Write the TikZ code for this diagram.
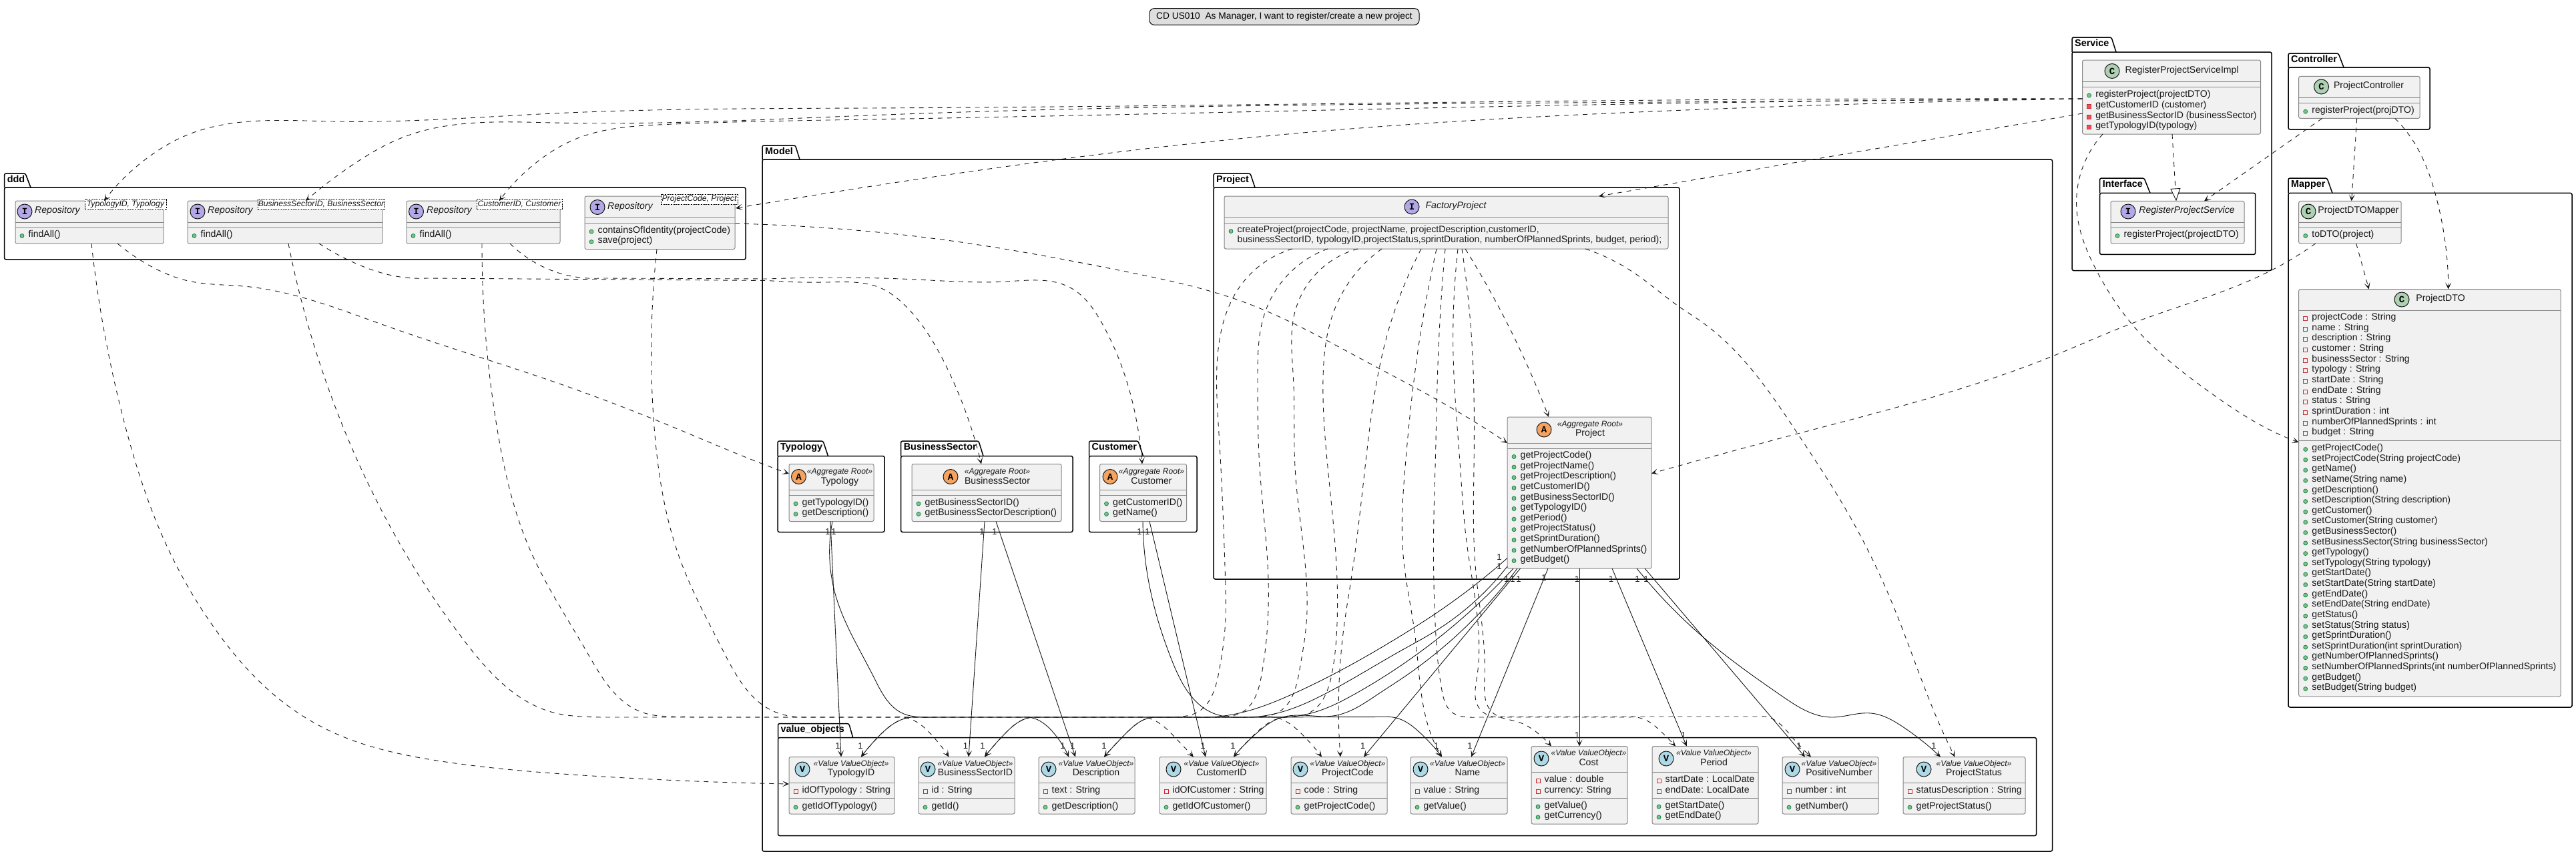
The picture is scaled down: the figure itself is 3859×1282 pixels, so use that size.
\documentclass[tikz,border=0pt]{standalone}
\usepackage{fontspec}
\setmainfont{Liberation Sans}
\newfontfamily\lettermono{Liberation Mono}
\usetikzlibrary{calc,arrows.meta,hobby}
\definecolor{classfill}{HTML}{F1F1F1}
\definecolor{classline}{HTML}{868686}
\definecolor{ink}{HTML}{181818}
\definecolor{circV}{HTML}{ADD8E6}
\definecolor{circA}{HTML}{F4A460}
\definecolor{circI}{HTML}{B4A7E5}
\definecolor{circC}{HTML}{ADD1B2}
\definecolor{pubfill}{HTML}{84BE84}
\definecolor{publine}{HTML}{038048}
\definecolor{privfill}{HTML}{F24D5C}
\definecolor{privline}{HTML}{C82930}
\tikzset{
  cbox/.style={draw=classline,fill=classfill,line width=1pt,rounded corners=2.5pt,inner sep=0pt,outer sep=0pt},
  pbox/.style={draw=black,line width=1.5pt,rounded corners=2.5pt,inner sep=0pt,outer sep=0pt},
  pline/.style={draw=black,line width=1.5pt,rounded corners=2.5pt},
  ptitle/.style={inner sep=0pt,anchor=mid west,font=\fontsize{14.4}{16}\selectfont\bfseries},
  sepl/.style={draw=classline,line width=1pt},
  memtxt/.style={inner sep=0pt,anchor=mid west,text=ink,font=\fontsize{14.1}{16}\selectfont},
  nametxt/.style={inner sep=0pt,anchor=mid,text=ink,font=\fontsize{14.1}{16}\selectfont},
  italname/.style={inner sep=0pt,anchor=mid,text=ink,font=\fontsize{14.1}{16}\selectfont\itshape},
  italmem/.style={inner sep=0pt,anchor=mid west,text=ink,font=\fontsize{14.1}{16}\selectfont\itshape},
  sterotxt/.style={inner sep=0pt,anchor=mid,text=ink,font=\fontsize{12.1}{14}\selectfont\itshape},
  gentxt/.style={inner sep=0pt,anchor=mid,text=ink,font=\fontsize{12.2}{14}\selectfont\itshape},
  genbox/.style={draw=black,fill=white,line width=.7pt,dash pattern=on 1.5pt off 1pt,inner sep=0pt},
  circ/.style={circle,draw=ink,line width=1pt,minimum size=22pt,inner sep=0pt,font=\fontsize{14}{14}\selectfont\lettermono\bfseries},
  onetxt/.style={inner sep=0pt,anchor=center,text=ink,font=\fontsize{13}{14}\selectfont},
  depline/.style={draw=ink,line width=.9pt,dash pattern=on 7pt off 7pt,-{Stealth[length=10pt,width=9pt,inset=5.5pt]}},
  assocline/.style={draw=ink,line width=.9pt,-{Stealth[length=10pt,width=9pt,inset=5.5pt]}},
  realline/.style={draw=ink,line width=.9pt,dash pattern=on 7pt off 7pt,-{Triangle[open,length=19pt,width=15pt,fill=white]}},
  legendbox/.style={draw=black,fill=black!13,line width=1pt,rounded corners=7pt,inner sep=0pt,font=\fontsize{13.75}{16}\selectfont}
}
\newcount\autoid
\newcommand\nextid{\global\advance\autoid by 1 }
\newcommand\cls[5]{\node[cbox,minimum width={(#4-#2)*1pt},minimum height={(#5-#3)*1pt}] (#1) at ({(#2+#4)/2},{(#3+#5)/2}) {};}
\newcommand\sepat[2]{\draw[sepl] (#1.west |- 0,#2) -- (#1.east |- 0,#2);}
\newcommand\badge[5]{\node[circ,fill=#2] (#1-c) at (#4,#5) {#3};}
\newcommand\ttl[5]{\node[#5] (#1-n) at (#2,#3) {#4};}
\newcommand\stereo[4]{\node[sterotxt] (#1-s) at (#2,#3) {#4};}
\newcommand\mpub[3]{\nextid\fill[pubfill,draw=publine,line width=.7pt] ({#1+10},{#2+.5}) circle (3pt);\node[memtxt] (m\the\autoid) at ({#1+19.5},#2) {#3};}
\newcommand\mpriv[3]{\nextid\fill[privfill,draw=privline,line width=.7pt] ({#1+7},{#2-2.5}) rectangle ({#1+13},{#2+3.5});\node[memtxt] (m\the\autoid) at ({#1+19.5},#2) {#3};}
\newcommand\mfld[3]{\nextid\draw[privline,line width=.8pt] ({#1+7},{#2-2.5}) rectangle ({#1+13},{#2+3.5});\node[memtxt] (m\the\autoid) at ({#1+19.5},#2) {#3};}
\newcommand\pkg[9]{\node[pbox,minimum width={(#7-#2)*1pt},minimum height={(#8-#6)*1pt}] (#1) at ({(#2+#7)/2},{(#6+#8)/2}) {};
  \draw[pline] (#2,#6) -- (#2,#3) -- (#4,#3) -- (#5,#6);
  \node[ptitle] (#1-t) at ({#2+4},{(#3+#6)/2}) {#9};}
\newcommand\one[2]{\nextid\node[onetxt] (o\the\autoid) at (#1,#2) {1};}
% connector: style, start anchor, dx, dy, middle points, end anchor, dx, dy
\newcommand\conn[8]{\draw[#1,use Hobby shortcut] ($(#2)+(#3,#4)$) .. #5 .. ($(#6)+(#7,#8)$);}
\newcommand\genparam[6]{\node[genbox,minimum width={(#4-#2)*1pt},minimum height={(#5-#3)*1pt}] (#1-g) at ({(#2+#4)/2},{(#3+#5)/2}) {};
  \node[gentxt] (#1-gt) at ({(#2+#4)/2},{(#3+#5)/2}) {#6};}
\begin{document}
\begin{tikzpicture}[x=1pt,y=-1pt]
\useasboundingbox (0,0) rectangle (3859,1282);
\fill[white] (0,0) rectangle (3859,1282);
\node[legendbox,minimum width=404pt,minimum height=24.6pt] (legend) at (1924,25) {CD US010\ \ As Manager, I want to register/create a new project};
% packages
\pkg{pddd}{6.6}{260}{38}{46}{281}{1117}{389}{ddd}
\pkg{pmodel}{1142}{218}{1191.5}{1198}{239}{3074.5}{1276}{Model}
\pkg{pproject}{1818}{260}{1873}{1880}{281}{2516}{868}{Project}
\pkg{ptypology}{1165}{661}{1233}{1240.5}{683.5}{1325}{797.5}{Typology}
\pkg{pbs}{1349.6}{661}{1466}{1473}{683.5}{1607}{797.5}{BusinessSector}
\pkg{pcustomer}{1631.5}{661}{1705}{1712.5}{683.5}{1793}{797.5}{Customer}
\pkg{pvo}{1165.5}{1084.5}{1271.7}{1277.7}{1105.5}{3050.5}{1252.6}{value\_objects}
\pkg{pservice}{3104}{56}{3163}{3170}{78}{3403}{405.5}{Service}
\pkg{pinterface}{3145.6}{267}{3212}{3221}{289.4}{3378.7}{381.4}{Interface}
\pkg{pcontroller}{3428}{80}{3503}{3511}{101}{3640}{194}{Controller}
\pkg{pmapper}{3428}{267}{3486}{3494}{289.4}{3853}{1060}{Mapper}
% repositories
\cls{repoT}{23}{301}{245}{365}\sepat{repoT}{333}\sepat{repoT}{341}
\badge{repoT}{circI}{I}{37}{317}
\node[italmem] (repoT-n) at (52,317) {Repository};
\genparam{repoT}{127}{298.5}{249}{314.5}{TypologyID, Typology}
\mpub{23}{353}{findAll()}
\cls{repoB}{281}{301}{573}{365}\sepat{repoB}{333}\sepat{repoB}{341}
\badge{repoB}{circI}{I}{296}{317}
\node[italmem] (repoB-n) at (311,317) {Repository};
\genparam{repoB}{386}{298.5}{576}{314.5}{BusinessSectorID, BusinessSector}
\mpub{281}{353}{findAll()}
\cls{repoC}{609}{301}{839}{365}\sepat{repoC}{333}\sepat{repoC}{341}
\badge{repoC}{circI}{I}{623.5}{317}
\node[italmem] (repoC-n) at (639,317) {Repository};
\genparam{repoC}{714}{298.5}{842}{314.5}{CustomerID, Customer}
\mpub{609}{353}{findAll()}
\cls{repoP}{876}{294}{1101}{373.5}\sepat{repoP}{326}\sepat{repoP}{334.6}
\badge{repoP}{circI}{I}{895}{310.5}
\node[italmem] (repoP-n) at (910,310.5) {Repository};
\genparam{repoP}{990}{291.3}{1105}{306.7}{ProjectCode, Project}
\mpub{876}{346.6}{containsOfIdentity(projectCode)}
\mpub{876}{362}{save(project)}
% factory
\cls{fact}{1834}{294}{2499}{373}\sepat{fact}{326}\sepat{fact}{334}
\badge{fact}{circI}{I}{2115}{310}
\ttl{fact}{2181}{310}{FactoryProject}{italname}
\mpub{1834}{346}{createProject(projectCode, projectName, projectDescription,customerID,}
\nextid\node[memtxt] (m\the\autoid) at (1853.5,361) {businessSectorID, typologyID,projectStatus,sprintDuration, numberOfPlannedSprints, budget, period);};
% project
\cls{proj}{2258}{625}{2474}{852}\sepat{proj}{664.5}\sepat{proj}{672.6}
\badge{proj}{circA}{A}{2313}{644}
\stereo{proj}{2382}{637}{«Aggregate Root»}
\ttl{proj}{2382}{651}{Project}{nametxt}
\foreach \m/\yy in {getProjectCode()/684,getProjectName()/699.6,getProjectDescription()/715.2,getCustomerID()/730.8,getBusinessSectorID()/746.4,getTypologyID()/762,getPeriod()/777.6,getProjectStatus()/793.2,getSprintDuration()/808.8,getNumberOfPlannedSprints()/824.4,getBudget()/840}{\mpub{2258}{\yy}{\m}}
% aggregates
\cls{typ}{1182}{695.5}{1309}{781.5}\sepat{typ}{734}\sepat{typ}{742}
\badge{typ}{circA}{A}{1196.5}{714.5}
\stereo{typ}{1258}{708}{«Aggregate Root»}
\ttl{typ}{1258}{722.5}{Typology}{nametxt}
\mpub{1182}{754.4}{getTypologyID()}\mpub{1182}{770}{getDescription()}
\cls{bs}{1366}{695.5}{1590}{781.5}\sepat{bs}{734}\sepat{bs}{742}
\badge{bs}{circA}{A}{1424}{714.5}
\stereo{bs}{1494}{708}{«Aggregate Root»}
\ttl{bs}{1494}{722.5}{BusinessSector}{nametxt}
\mpub{1366}{754.4}{getBusinessSectorID()}\mpub{1366}{770}{getBusinessSectorDescription()}
\cls{cust}{1647.5}{695.5}{1777.5}{781.5}\sepat{cust}{734}\sepat{cust}{742}
\badge{cust}{circA}{A}{1663}{714.5}
\stereo{cust}{1725}{708}{«Aggregate Root»}
\ttl{cust}{1725}{722.5}{Customer}{nametxt}
\mpub{1647.5}{754.4}{getCustomerID()}\mpub{1647.5}{770}{getName()}
% value objects
\cls{tid}{1182}{1134.5}{1340}{1220}\sepat{tid}{1173.5}\sepat{tid}{1196.5}
\badge{tid}{circV}{V}{1202}{1153}\stereo{tid}{1275}{1146}{«Value ValueObject»}\ttl{tid}{1275}{1160}{TypologyID}{nametxt}
\mfld{1182}{1185.5}{idOfTypology : String}\mpub{1182}{1209.5}{getIdOfTypology()}
\cls{bsid}{1376}{1134.5}{1520}{1220}\sepat{bsid}{1173.5}\sepat{bsid}{1196.5}
\badge{bsid}{circV}{V}{1390}{1153}\stereo{bsid}{1461}{1146}{«Value ValueObject»}\ttl{bsid}{1461}{1160}{BusinessSectorID}{nametxt}
\mfld{1376}{1185.5}{id : String}\mpub{1376}{1209.5}{getId()}
\cls{desc}{1556}{1134.5}{1700}{1220}\sepat{desc}{1173.5}\sepat{desc}{1196.5}
\badge{desc}{circV}{V}{1571}{1153}\stereo{desc}{1642}{1146}{«Value ValueObject»}\ttl{desc}{1642}{1160}{Description}{nametxt}
\mfld{1556}{1185.5}{text : String}\mpub{1556}{1209.5}{getDescription()}
\cls{cid}{1737}{1134.5}{1897}{1220}\sepat{cid}{1173.5}\sepat{cid}{1196.5}
\badge{cid}{circV}{V}{1758}{1153}\stereo{cid}{1830}{1146}{«Value ValueObject»}\ttl{cid}{1830}{1160}{CustomerID}{nametxt}
\mfld{1737}{1185.5}{idOfCustomer : String}\mpub{1737}{1209.5}{getIdOfCustomer()}
\cls{pcode}{1934}{1134.5}{2078}{1220}\sepat{pcode}{1173.5}\sepat{pcode}{1196.5}
\badge{pcode}{circV}{V}{1948}{1153}\stereo{pcode}{2019}{1146}{«Value ValueObject»}\ttl{pcode}{2019}{1160}{ProjectCode}{nametxt}
\mfld{1934}{1185.5}{code : String}\mpub{1934}{1209.5}{getProjectCode()}
\cls{nameV}{2113}{1134.5}{2258}{1220}\sepat{nameV}{1173.5}\sepat{nameV}{1196.5}
\badge{nameV}{circV}{V}{2128}{1153}\stereo{nameV}{2198.5}{1146}{«Value ValueObject»}\ttl{nameV}{2198.5}{1160}{Name}{nametxt}
\mfld{2113}{1185.5}{value : String}\mpub{2113}{1209.5}{getValue()}
\cls{cost}{2294}{1118.5}{2438}{1235}\sepat{cost}{1157.5}\sepat{cost}{1196.5}
\badge{cost}{circV}{V}{2309}{1137}\stereo{cost}{2380}{1130}{«Value ValueObject»}\ttl{cost}{2380}{1144.5}{Cost}{nametxt}
\mfld{2294}{1169.5}{value : double}\mfld{2294}{1185.5}{currency: String}\mpub{2294}{1208.5}{getValue()}\mpub{2294}{1224.3}{getCurrency()}
\cls{period}{2475}{1118.5}{2634}{1235}\sepat{period}{1157.5}\sepat{period}{1196.5}
\badge{period}{circV}{V}{2496}{1137}\stereo{period}{2567.5}{1130}{«Value ValueObject»}\ttl{period}{2567.5}{1144.5}{Period}{nametxt}
\mfld{2475}{1169.5}{startDate : LocalDate}\mfld{2475}{1185.5}{endDate: LocalDate}\mpub{2475}{1208.5}{getStartDate()}\mpub{2475}{1224.3}{getEndDate()}
\cls{posn}{2670}{1134.5}{2814}{1220}\sepat{posn}{1173.5}\sepat{posn}{1196.5}
\badge{posn}{circV}{V}{2685}{1153}\stereo{posn}{2755}{1146}{«Value ValueObject»}\ttl{posn}{2755}{1160}{PositiveNumber}{nametxt}
\mfld{2670}{1185.5}{number : int}\mpub{2670}{1209.5}{getNumber()}
\cls{pstat}{2851}{1134.5}{3034}{1220}\sepat{pstat}{1173.5}\sepat{pstat}{1196.5}
\badge{pstat}{circV}{V}{2882}{1153}\stereo{pstat}{2957}{1146}{«Value ValueObject»}\ttl{pstat}{2957}{1160}{ProjectStatus}{nametxt}
\mfld{2851}{1185.5}{statusDescription : String}\mpub{2851}{1209.5}{getProjectStatus()}
% service
\cls{rpsi}{3119.6}{90}{3386.5}{201}\sepat{rpsi}{122}\sepat{rpsi}{130.6}
\badge{rpsi}{circC}{C}{3164}{106.5}
\ttl{rpsi}{3268.6}{106.5}{RegisterProjectServiceImpl}{nametxt}
\mpub{3119.6}{142.6}{registerProject(projectDTO)}
\mpriv{3119.6}{158.4}{getCustomerID (customer)}
\mpriv{3119.6}{174.5}{getBusinessSectorID (businessSector)}
\mpriv{3119.6}{190}{getTypologyID(typology)}
\cls{rps}{3162}{301.4}{3362}{365}\sepat{rps}{333}\sepat{rps}{341}
\badge{rps}{circI}{I}{3188}{317}
\ttl{rps}{3276}{317}{RegisterProjectService}{italname}
\mpub{3162}{353}{registerProject(projectDTO)}
\cls{ctrl}{3443.7}{114.4}{3625}{177.4}\sepat{ctrl}{146}\sepat{ctrl}{154}
\badge{ctrl}{circC}{C}{3477.5}{130}
\ttl{ctrl}{3548.5}{130}{ProjectController}{nametxt}
\mpub{3443.7}{166.7}{registerProject(projDTO)}
\cls{mapper}{3443.7}{301.4}{3597}{365}\sepat{mapper}{333}\sepat{mapper}{341}
\badge{mapper}{circC}{C}{3458}{317}
\ttl{mapper}{3533}{317}{ProjectDTOMapper}{nametxt}
\mpub{3443.7}{353}{toDTO(project)}
\cls{dto}{3443.7}{433.5}{3836}{1044}\sepat{dto}{465.6}\sepat{dto}{660}
\badge{dto}{circC}{C}{3598}{449}
\ttl{dto}{3656}{449}{ProjectDTO}{nametxt}
\foreach \m [count=\i from 0] in {projectCode : String,name : String,description : String,customer : String,businessSector : String,typology : String,startDate : String,endDate : String,status : String,sprintDuration : int,numberOfPlannedSprints : int,budget : String}{\pgfmathsetmacro\yy{477+15.64*\i}\mfld{3443.7}{\yy}{\m}}
\foreach \m [count=\i from 0] in {getProjectCode(),setProjectCode(String projectCode),getName(),setName(String name),getDescription(),setDescription(String description),getCustomer(),setCustomer(String customer),getBusinessSector(),setBusinessSector(String businessSector),getTypology(),setTypology(String typology),getStartDate(),setStartDate(String startDate),getEndDate(),setEndDate(String endDate),getStatus(),setStatus(String status),getSprintDuration(),setSprintDuration(int sprintDuration),getNumberOfPlannedSprints(),setNumberOfPlannedSprints(int numberOfPlannedSprints),getBudget(),setBudget(String budget)}{\pgfmathsetmacro\yy{673+15.61*\i}\mpub{3443.7}{\yy}{\m}}
% service connectors
\conn{depline}{rpsi.north west}{0}{58}{(2500,150) .. (1300,162) .. (829,170) .. (497,182) .. (274,205) .. (236,226)}{repoT.north west}{133}{0}
\conn{depline}{rpsi.north west}{0}{58}{(2500,153) .. (1300,173) .. (829,184) .. (597,208.5) .. (539,240)}{repoB.north west}{177}{0}
\conn{depline}{rpsi.north west}{0}{58}{(2500,155) .. (1300,179) .. (995,186.6) .. (862,208.5) .. (808,240)}{repoC.north west}{139}{0}
\conn{depline}{rpsi.north west}{0}{58}{(2500,166) .. (1940,200) .. (1150,304)}{repoP.north east}{1}{18}
\conn{depline}{rpsi.north west}{0}{80}{(2500,276)}{fact.north west}{561}{0}
\conn{depline}{rpsi.south west}{30.4}{0}{(3111,315) .. (3141,406) .. (3193,485) .. (3305,584) .. (3428,657)}{dto.north west}{0}{229.5}
\draw[realline] ($(rpsi.south west)+(134.4,0)$) -- ($(rps.north west)+(98,0)$);
\draw[depline] ($(ctrl.south west)+(35,0)$) -- ($(rps.north west)+(140,0)$);
\draw[depline] ($(ctrl.south west)+(87,0)$) -- ($(mapper.north west)+(79,0)$);
\conn{depline}{ctrl.south west}{144}{0}{(3618,216) .. (3648,290)}{dto.north west}{224}{0}
\draw[depline] ($(mapper.south west)+(86,0)$) -- ($(dto.north west)+(105,0)$);
\conn{depline}{mapper.south west}{25}{0}{(3401,406) .. (3193,485) .. (3072,535) .. (2693,650)}{proj.north east}{0}{84.6}
% repository connectors
\conn{depline}{repoP.north east}{0}{41}{(1239,341.7) .. (1418,360) .. (1686,407) .. (1864,453) .. (2043,540) .. (2177,613)}{proj.north west}{0}{39}
\conn{depline}{repoP.south west}{108}{0}{(976,497) .. (980,640) .. (1019,839) .. (1082,973) .. (1166,1069) .. (1185,1073.5) .. (1205,1075) -- (1890,1075) .. (1917,1077) .. (1950,1100)}{pcode.north west}{46}{0}
\conn{depline}{repoT.south west}{153}{0}{(224,398) .. (282,421) .. (365,429) .. (580,489) .. (829,572) .. (1008,640) .. (1138,693.6)}{typ.north west}{0}{14.5}
\conn{depline}{repoT.south west}{114}{0}{(188,640) .. (247,812) .. (324.5,946) .. (416,1046) .. (493,1095) .. (661,1141) .. (872,1162)}{tid.north west}{0}{40.5}
\conn{depline}{repoB.south west}{197}{0}{(531,394) .. (593,414) .. (640,417) -- (1150,420.5) .. (1239,423) .. (1320,432) .. (1355,457) .. (1418,550)}{bs.north west}{104}{0}
\conn{depline}{repoC.south west}{155}{0}{(862,415) .. (900,417) -- (1150,418) .. (1373,419) .. (1507,422) .. (1605,432) .. (1650,483) .. (1703,633)}{cust.north west}{63.5}{0}
\conn{depline}{repoB.south west}{151}{0}{(514,640) .. (591,801) .. (696,961) .. (833,1069) .. (872,1074) .. (905,1075) -- (1340,1075) .. (1362,1077) .. (1397,1103)}{bsid.north west}{45.6}{0}
\conn{depline}{repoC.south west}{113}{0}{(745,644) .. (794,824) .. (879,977) .. (966,1069) .. (1012,1074) .. (1040,1075) -- (1700,1075) .. (1723,1077) .. (1760,1105)}{cid.north west}{51}{0}
% factory connectors
\conn{depline}{fact.south west}{102}{0}{(1855,433) .. (1824,533) .. (1826,650) .. (1835.6,869) .. (1835.6,934) .. (1826,1007) .. (1791,1069) .. (1770,1074) .. (1745,1075) -- (1375,1075) .. (1355,1077) .. (1317,1103)}{tid.north west}{108}{0}
\conn{depline}{fact.south west}{155}{0}{(1895.5,467) .. (1884,567) .. (1887,700) .. (1900,869) .. (1899,934) .. (1890,1011) .. (1858,1069) .. (1838,1074) .. (1815,1075) -- (1555,1075) .. (1537,1077) .. (1505,1100)}{bsid.north west}{99}{0}
\conn{depline}{fact.south west}{200}{0}{(1940,467) .. (1937.5,567) .. (1940,700) .. (1957,869) .. (1957,934) .. (1947,1003) .. (1912,1069) .. (1890,1074) .. (1870,1075) -- (1735,1075) .. (1718,1077) .. (1686,1100)}{desc.north west}{98}{0}
\conn{depline}{fact.south west}{236}{0}{(1998,467) .. (1982,567) .. (1989,700) .. (2003,869) .. (2003,934) .. (1995,1011) .. (1960,1069) .. (1940,1074) .. (1915,1077) .. (1880,1100)}{cid.north west}{111}{0}
\conn{depline}{fact.south west}{295}{0}{(2078.6,500) .. (2045,700) .. (2024,869) .. (2014,934)}{pcode.north west}{74}{0}
\conn{depline}{fact.south west}{318}{0}{(2123,533) .. (2105,700) .. (2102,832) .. (2120,954) .. (2150,1116)}{nameV.north west}{47}{0}
\conn{depline}{fact.south west}{331}{0}{(2154.5,533) .. (2150,700) .. (2148,772) .. (2150,934) .. (2160,1035) .. (2177,1069) .. (2195,1074.5) .. (2215,1075) -- (2440,1075) .. (2460,1077) .. (2490,1098)}{period.north west}{35}{0}
\conn{depline}{fact.south west}{350}{0}{(2177,533) .. (2187.5,700) .. (2197,812) .. (2212.5,1015) .. (2215,1060) .. (2232,1073) .. (2250,1074) -- (2635,1074) .. (2652,1076) .. (2683,1103)}{posn.north west}{43}{0}
\conn{depline}{fact.south west}{356}{0}{(2206,533) .. (2208,700) .. (2210.5,853) .. (2224,1015) .. (2237,1069) .. (2274,1082) .. (2305,1100)}{cost.north west}{30}{0}
\conn{depline}{fact.south west}{361}{0}{(2257,483)}{proj.north west}{62}{0}
\conn{depline}{fact.south west}{541}{0}{(2445,407) .. (2516,460) .. (2550,483) .. (2693,650) .. (2770,772) .. (2837,910) .. (2910,1096)}{pstat.north west}{77.5}{0}
% associations
\conn{assocline}{proj.north west}{0}{211.5}{(2150,920) .. (2100,952) .. (1937,1040) .. (1860,1068) .. (1825,1074) .. (1790,1075) -- (1375,1075) .. (1355,1077) .. (1317,1103)}{tid.north west}{108}{0}
\conn{assocline}{proj.north west}{0}{224}{(2150,946) .. (2100,974.5) .. (1985,1040) .. (1917,1068) .. (1885,1074) .. (1860,1075) -- (1555,1075) .. (1537,1077) .. (1505,1100)}{bsid.north west}{99}{0}
\conn{assocline}{proj.south west}{9}{0}{(2100,996.6) .. (2030,1040) .. (1960,1070) .. (1930,1074.5) .. (1905,1075) -- (1735,1075) .. (1718,1077) .. (1686,1100)}{desc.north west}{98}{0}
\conn{assocline}{proj.south west}{15}{0}{(2100,1017) .. (2065,1040) .. (1997,1073) .. (1950,1072) .. (1915,1077) .. (1887,1095)}{cid.north west}{111}{0}
\draw[assocline] ($(proj.south west)+(19.5,0)$) -- ($(pcode.north west)+(109,0)$);
\draw[assocline] ($(proj.south west)+(61,0)$) -- ($(nameV.north west)+(91,0)$);
\draw[assocline] ($(proj.south west)+(108,0)$) -- ($(cost.north west)+(72,0)$);
\draw[assocline] ($(proj.south west)+(157,0)$) -- ($(period.north west)+(51.7,0)$);
\draw[assocline] ($(proj.south west)+(206,0)$) -- ($(posn.north west)+(34,0)$);
\conn{assocline}{proj.south west}{194}{0}{(2555,958) .. (2669,1043) .. (2743,1075) .. (2803,1069) .. (2850,1089)}{pstat.north west}{56}{0}
\draw[assocline] ($(typ.south west)+(62,0)$) -- ($(tid.north west)+(78,0)$);
\conn{assocline}{typ.south west}{65}{0}{(1252,893) .. (1309,1015) .. (1354,1070) .. (1375,1074.5) .. (1395,1075) -- (1530,1075) .. (1550,1077) .. (1578,1098)}{desc.north west}{45}{0}
\draw[assocline] ($(bs.south west)+(109,0)$) -- ($(bsid.north west)+(75,0)$);
\draw[assocline] ($(bs.south west)+(126,0)$) -- ($(desc.north west)+(55,0)$);
\draw[assocline] ($(cust.south west)+(74.5,0)$) -- ($(cid.north west)+(69,0)$);
\conn{assocline}{cust.south west}{64.5}{0}{(1717.6,853) .. (1756,991) .. (1820,1070) .. (1840,1074.5) .. (1860,1075) -- (2075,1074.5) .. (2095,1077) .. (2127,1098)}{nameV.north west}{47}{0}
% multiplicities
\foreach \a/\b in {1240/797,1249/797,1471/797,1490/797,1707/797,1719/797,
  1255/1118.5,1289/1118.5,1446.5/1118.5,1472/1118.5,1592/1118.5,1606.6/1118.5,1654/1118.5,1802/1118.5,1847/1118.5,2041.6/1118.5,2152/1118.5,2202/1118.5,2362.5/1102,2522/1102,2695/1118.5,2897/1118.5,
  2246/835.4,2246/849,2257/867.7,2266/867.7,2275/867.7,2313/865.6,2362.5/867.7,2413.5/867.7,2453/867.7,2466/867.7}{\one{\a}{\b}}
\end{tikzpicture}
\end{document}
